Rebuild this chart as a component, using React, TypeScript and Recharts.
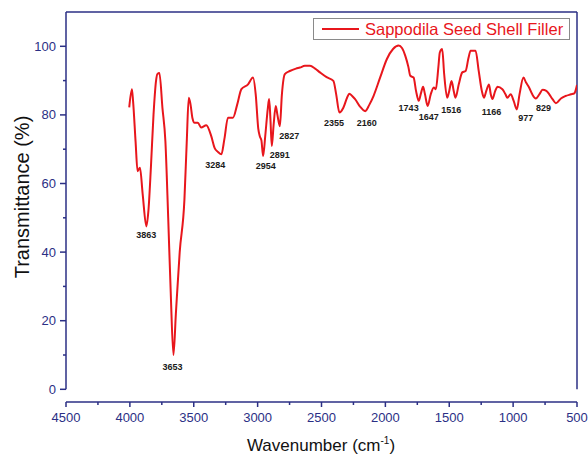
import { LineChart, Line, XAxis, YAxis, ReferenceLine, ReferenceDot } from 'recharts'

// spectrum, high to low wavenumber
const wavenumbers = [
  4005, 3984, 3975, 3955, 3940, 3921, 3900, 3871, 3855, 3835, 3815, 3795, 3785, 3769, 3745, 3722,
  3700, 3680, 3659, 3640, 3610, 3573, 3555, 3539, 3525, 3510, 3494, 3468, 3442, 3402, 3363, 3337,
  3310, 3284, 3260, 3232, 3193, 3160, 3127, 3075, 3036, 3015, 2995, 2983, 2970, 2957, 2940, 2920,
  2910, 2900, 2889, 2875, 2858, 2845, 2826, 2810, 2787, 2748, 2700, 2669, 2630, 2590, 2550, 2512,
  2460, 2407, 2385, 2360, 2329, 2300, 2282, 2260, 2237, 2200, 2158, 2125, 2093, 2040, 1988, 1940,
  1896, 1870, 1844, 1820, 1805, 1779, 1760, 1739, 1720, 1705, 1690, 1669, 1645, 1621, 1605, 1585,
  1574, 1555, 1540, 1516, 1500, 1482, 1465, 1451, 1425, 1398, 1372, 1350, 1333, 1294, 1270, 1245,
  1228, 1210, 1189, 1175, 1162, 1140, 1123, 1084, 1060, 1045, 1019, 995, 971, 950, 919, 900,
  875, 850, 822, 795, 769, 740, 717, 690, 665, 626, 590, 547, 521, 500,
]
const transmittance = [
  82.2, 87.5, 84, 72, 63.6, 64.6, 57, 47.5, 52, 65, 80, 90, 91.9, 92.2, 82, 72.3,
  50, 28, 10, 22, 40, 55.3, 72, 85, 83, 79, 77.7, 77.7, 76.3, 77, 73.8, 70.4,
  69.2, 68.5, 73, 79.2, 79.2, 83, 87.5, 88.9, 90.9, 86, 76, 73.8, 72.5, 68, 74, 82,
  84.6, 79, 70.9, 77, 82.6, 80, 76.7, 86, 91.9, 92.8, 93.5, 93.8, 94.3, 94.3, 93.5, 92.4,
  91, 89.9, 86, 80.7, 82.1, 85, 86.2, 85.5, 84.6, 82.5, 81.1, 83, 85.5, 91, 96.3, 99.2,
  100.2, 99.5, 97.2, 94, 91.4, 90.9, 87, 84.1, 86.5, 88.2, 86, 82.6, 86, 88, 87.5, 94,
  98.2, 99.2, 92, 85, 87, 89.9, 87, 85, 89, 92.4, 92.8, 96.5, 98.7, 98.7, 93, 87,
  85, 87, 88.9, 86, 84.6, 87, 88.2, 87.5, 86, 85, 86, 84, 81.6, 86, 90.9, 89.5,
  88, 86, 84.8, 86, 87.3, 87, 86, 84.5, 83.4, 84.8, 85.5, 86, 86.3, 88.7,
]

const xTicks = [4500, 4250, 4000, 3750, 3500, 3250, 3000, 2750, 2500, 2250, 2000, 1750, 1500, 1250, 1000, 750, 500]
const yTicks = [0, 10, 20, 30, 40, 50, 60, 70, 80, 90, 100]

// band labels and where their text sits
const peakNames = ['3863', '3653', '3284', '2954', '2891', '2827', '2355', '2160', '1743', '1647', '1516', '1166', '977', '829']
const peakLabelX = [3871, 3667, 3331, 2936, 2826, 2753, 2402, 2145, 1818, 1661, 1485, 1170, 901, 762]
const peakLabelY = [45.1, 6.7, 65.5, 65.3, 68.3, 74.0, 77.7, 77.7, 82.1, 79.5, 81.6, 81.0, 79.2, 82.1]

const NAVY = '#2b2f85'
const RED = '#e8161c'
const FONT = '"Liberation Sans", Arial, sans-serif'

const data = wavenumbers.map((w, i) => ({ w, t: transmittance[i] }))

function XTick({ x, y, payload }: any) {
  const major = payload.value % 500 === 0
  return (
    <g>
      <line x1={x} x2={x} y1={y} y2={y + (major ? 5 : 3)} stroke={NAVY} strokeWidth={1.5} />
      {major && (
        <text x={x} y={y + 15.5} dy="0.35em" textAnchor="middle" fill={NAVY} fontSize={13} fontFamily={FONT}>
          {payload.value}
        </text>
      )}
    </g>
  )
}

function YTick({ x, y, payload }: any) {
  const major = payload.value % 20 === 0
  return (
    <g>
      <line x1={x - (major ? 6 : 3)} x2={x} y1={y} y2={y} stroke={NAVY} strokeWidth={1.5} />
      {major && (
        <text x={x - 10} y={y} dy="0.35em" textAnchor="end" fill={NAVY} fontSize={13} fontFamily={FONT}>
          {payload.value}
        </text>
      )}
    </g>
  )
}

export default function App() {
  return (
    <div style={{ position: 'absolute', left: 0, top: 0, width: 588, height: 454, background: '#fff', fontFamily: FONT }}>
      <LineChart width={588} height={454} data={data} margin={{ top: 12, right: 11, left: 0, bottom: 0 }}>
        <XAxis
          dataKey="w"
          type="number"
          domain={[500, 4500]}
          reversed
          allowDataOverflow
          ticks={xTicks}
          interval={0}
          tickSize={0}
          tickMargin={0}
          tickLine={false}
          axisLine={{ stroke: NAVY, strokeWidth: 1.5 }}
          tick={(p: any) => <XTick {...p} />}
          height={52}
        />
        <YAxis
          type="number"
          domain={[-3.7, 110]}
          allowDataOverflow
          ticks={yTicks}
          interval={0}
          tickSize={0}
          tickMargin={0}
          tickLine={false}
          axisLine={false}
          tick={(p: any) => <YTick {...p} />}
          width={66}
        />
        <ReferenceLine segment={[{ x: 4500, y: 0 }, { x: 4500, y: 110 }]} stroke={NAVY} strokeWidth={1.5} ifOverflow="visible" />
        <ReferenceLine segment={[{ x: 4500, y: 110 }, { x: 500, y: 110 }]} stroke={NAVY} strokeWidth={1.5} ifOverflow="visible" />
        <ReferenceLine segment={[{ x: 500, y: 0 }, { x: 500, y: 110 }]} stroke={NAVY} strokeWidth={1.5} ifOverflow="visible" />
        <Line
          type="monotone"
          dataKey="t"
          stroke={RED}
          strokeWidth={2}
          dot={false}
          isAnimationActive={false}
        />
        {peakNames.map((name, i) => (
          <ReferenceDot
            key={name}
            x={peakLabelX[i]}
            y={peakLabelY[i]}
            r={0}
            fill="none"
            stroke="none"
            ifOverflow="visible"
            label={{ value: name, position: 'center', fontSize: 9, fontWeight: 'bold', fill: '#1a1a1a', fontFamily: FONT }}
          />
        ))}
      </LineChart>

      {/* legend box */}
      <div
        style={{
          position: 'absolute', left: 313, top: 18, width: 257, height: 22,
          border: '1px solid #8a8a8a', display: 'flex', alignItems: 'center', boxSizing: 'border-box',
        }}
      >
        <div style={{ width: 37, height: 2, background: RED, marginLeft: 8, marginRight: 6 }} />
        <span style={{ color: RED, fontSize: 16.5, whiteSpace: 'nowrap' }}>Sappodila Seed Shell Filler</span>
      </div>

      {/* axis titles */}
      <div
        style={{
          position: 'absolute', left: 22, top: 197, transform: 'translate(-50%, -50%) rotate(-90deg)',
          whiteSpace: 'nowrap', fontSize: 20, lineHeight: 1, color: '#111',
        }}
      >
        Transmittance (%)
      </div>
      <div
        style={{
          position: 'absolute', left: 321, top: 445, transform: 'translate(-50%, -50%)',
          whiteSpace: 'nowrap', fontSize: 17, lineHeight: 1, color: '#111',
        }}
      >
        Wavenumber (cm<sup style={{ fontSize: 10, lineHeight: 0 }}>-1</sup>)
      </div>
    </div>
  )
}
